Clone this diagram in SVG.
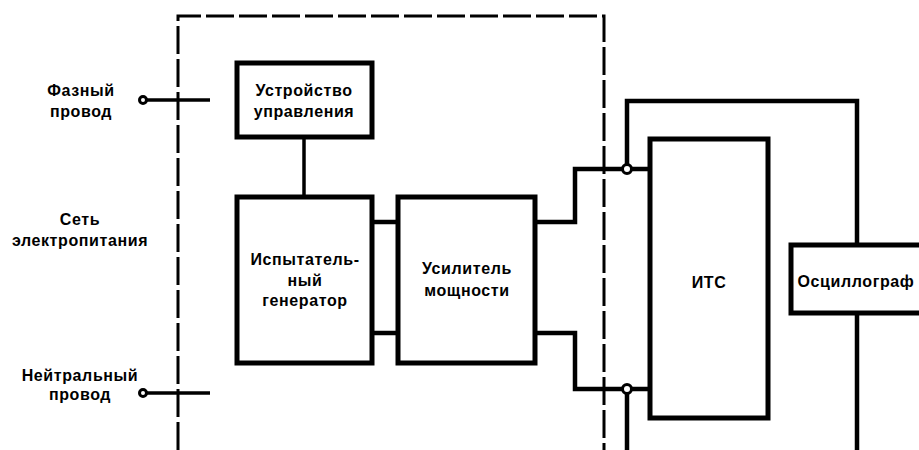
<svg xmlns="http://www.w3.org/2000/svg" width="919" height="450" viewBox="0 0 919 450">
<style>
.box{fill:#fff;stroke:#000;stroke-width:5}
.ln{fill:none;stroke:#000;stroke-width:4.5;stroke-linejoin:miter}
.thin{fill:none;stroke:#000;stroke-width:3.5}
.dash{fill:none;stroke:#000;stroke-width:3;stroke-dasharray:28 5}
.term{fill:#fff;stroke:#000;stroke-width:3}
text{font-family:"Liberation Sans",Arial,sans-serif;font-weight:bold;font-size:16px;letter-spacing:0.6px;fill:#000;text-anchor:middle}
</style>
<rect width="919" height="450" fill="#fff"/>
<g id="boundary">
<path class="dash" d="M178,450 V16 H604 V450"/>
</g>
<g id="connectors">
<path class="thin" d="M147,100 H210"/>
<path class="thin" d="M147,393 H210"/>
<path class="thin" d="M304,137 V197"/>
<path class="ln" d="M372,222 H398"/>
<path class="ln" d="M372,333 H398"/>
<path class="ln" d="M535,222 H575 V169 H650"/>
<path class="ln" d="M535,333 H575 V389 H650"/>
<path class="ln" d="M627,169 V101 H857 V245"/>
<path class="ln" d="M857,313 V450"/>
<path class="ln" d="M627,389 V450"/>
<circle class="term" cx="143" cy="100" r="3.5"/>
<circle class="term" cx="143" cy="393" r="3.5"/>
<circle class="term" cx="627" cy="169" r="4.5"/>
<circle class="term" cx="627" cy="389" r="4.5"/>
</g>
<g id="label-phase">
<text x="81" y="96">Фазный</text>
<text x="81" y="117">провод</text>
</g>
<g id="label-mains">
<text x="80" y="225">Сеть</text>
<text x="80" y="246">электропитания</text>
</g>
<g id="label-neutral">
<text x="80" y="381">Нейтральный</text>
<text x="80" y="400">провод</text>
</g>
<g id="control">
<rect class="box" x="237" y="63" width="135" height="74"/>
<text x="304" y="96">Устройство</text>
<text x="304" y="117">управления</text>
</g>
<g id="generator">
<rect class="box" x="237" y="197" width="135" height="166"/>
<text x="305" y="265">Испытатель-</text>
<text x="305" y="286">ный</text>
<text x="305" y="306">генератор</text>
</g>
<g id="amplifier">
<rect class="box" x="398" y="197" width="137" height="166"/>
<text x="467" y="274">Усилитель</text>
<text x="467" y="296">мощности</text>
</g>
<g id="itc">
<rect class="box" x="650" y="139" width="118" height="279"/>
<text x="709" y="288">ИТС</text>
</g>
<g id="oscilloscope">
<rect class="box" x="791" y="245" width="140" height="68"/>
<text x="856" y="287">Осциллограф</text>
</g>
</svg>
